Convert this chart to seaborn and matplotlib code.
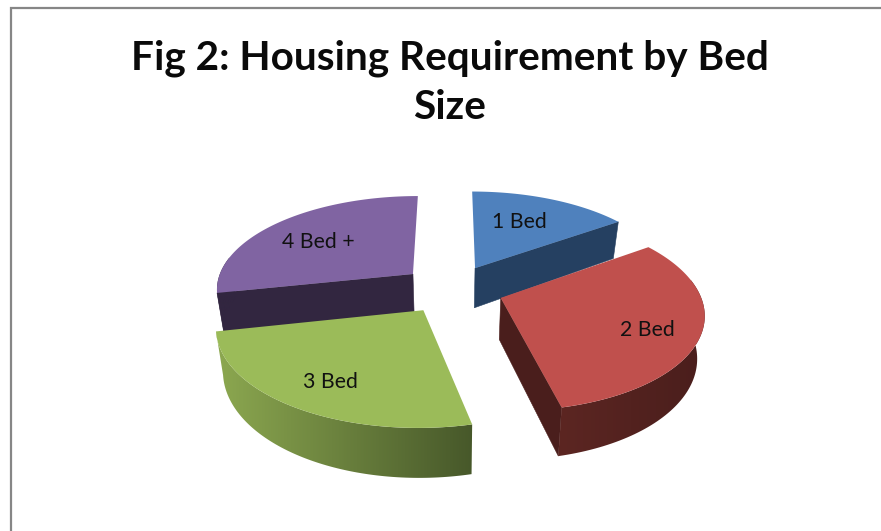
import numpy as np
import matplotlib
matplotlib.use("Agg")
import matplotlib.pyplot as plt
from matplotlib.patches import Polygon
import seaborn as sns

titleText = "Fig 2: Housing Requirement by Bed\nSize"
bedLabels = ["1 Bed", "2 Bed", "3 Bed", "4 Bed +"]
bedShares = [15.3, 31.1, 25.3, 28.3]

topColors = ["#4F81BD", "#C0504D", "#9BBB59", "#8064A2"]
faceColors = ["#254061", "#4A1E1C", "#4A5C28", "#322640"]
wallColors = [("#254061", "#254061"), ("#5C2622", "#4A1E1C"),
              ("#8CA850", "#47582A"), ("#322640", "#322640")]
labelNudges = [(-12, 5), (5, 6), (-3, 5), (4, 6)]
drawOrder = [3, 0, 2, 1]

# the tilted pie, in pixels of the 881x531 picture
centerX, centerY = 452, 289
radius = 192
stretch = 1.03
tilt = 0.487
perspective = 0.147
explode = 50
depth = 41


def project(planeX, planeY, down = 0.0):
    scale = 1 / (1 + perspective * planeY / radius)
    screenX = centerX + planeX * stretch * scale * (1 - 0.03 * down)
    screenY = centerY - planeY * tilt * scale + down * depth * scale
    return screenX, screenY


def faceShows(tipPoint, edgePoint, insidePoint, edgeAngle):
    # a cut face shows when the slice lies above its edge on screen
    if np.cos(edgeAngle) > 0.9:
        return False
    slope = (edgePoint[1] - tipPoint[1]) / (edgePoint[0] - tipPoint[0])
    return insidePoint[1] < tipPoint[1] + slope * (insidePoint[0] - tipPoint[0])


def drawSlice(ax, index, startAngle, endAngle, level):
    midAngle = np.radians((startAngle + endAngle) / 2)
    tipX = explode * np.sin(midAngle)
    tipY = explode * np.cos(midAngle)
    angles = np.radians(np.linspace(startAngle, endAngle, 90))
    rimX = tipX + radius * np.sin(angles)
    rimY = tipY + radius * np.cos(angles)
    tipPoint = project(tipX, tipY)
    insidePoint = project(rimX[45], rimY[45])

    for edgeX, edgeY, edgeAngle in [(rimX[0], rimY[0], angles[0]), (rimX[-1], rimY[-1], angles[-1])]:
        if not faceShows(tipPoint, project(edgeX, edgeY), insidePoint, edgeAngle):
            continue
        corners = [tipPoint, project(edgeX, edgeY),
                   project(edgeX, edgeY, 1), project(tipX, tipY, 1)]
        ax.add_patch(Polygon(corners, closed = True, facecolor = faceColors[index],
                             edgecolor = faceColors[index], linewidth = 0.4, zorder = level))

    # outer wall, only the front of the rim, a left to right ramp clipped to its outline
    front = np.cos(angles) < 0.2
    if front.any():
        upperX, upperY = project(rimX[front], rimY[front])
        lowerX, lowerY = project(rimX[front], rimY[front], 1)
        outline = list(zip(upperX, upperY)) + list(zip(lowerX[::-1], lowerY[::-1]))
        wallPatch = Polygon(outline, closed = True, facecolor = "none", edgecolor = "none",
                            transform = ax.transData)
        ax.add_patch(wallPatch)
        ramp = np.array(sns.blend_palette(wallColors[index], 128))[np.newaxis, :, :3]
        image = ax.imshow(ramp, extent = (min(upperX.min(), lowerX.min()), max(upperX.max(), lowerX.max()),
                                          max(upperY.max(), lowerY.max()), min(upperY.min(), lowerY.min())),
                          aspect = "auto", interpolation = "bilinear", zorder = level + 0.1)
        image.set_clip_path(wallPatch)

    # top of the slice
    topX, topY = project(rimX, rimY)
    ax.add_patch(Polygon([tipPoint] + list(zip(topX, topY)), closed = True,
                         facecolor = topColors[index], edgecolor = "none", zorder = level + 0.2))

    return project(tipX + 0.72 * radius * np.sin(midAngle),
                   tipY + 0.72 * radius * np.cos(midAngle))


sns.set_theme(style = "white")
plt.rcParams["font.family"] = ["Lato", "DejaVu Sans"]

fig = plt.figure(figsize = (8.81, 5.31), dpi = 100)
ax = fig.add_axes([0, 0, 1, 1])
ax.axis("off")

ax.plot([10.5, 10.5, 881], [531, 8, 8], color = "#868686", linewidth = 1.6,
        solid_joinstyle = "miter")

edges = np.concatenate([[0], np.cumsum(bedShares)]) / np.sum(bedShares) * 360
labelSpots = {}
for level, index in enumerate(drawOrder):
    labelSpots[index] = drawSlice(ax, index, edges[index], edges[index + 1], level + 2)

for index, label in enumerate(bedLabels):
    ax.text(labelSpots[index][0] + labelNudges[index][0], labelSpots[index][1] + labelNudges[index][1],
            label, fontsize = 15.3, color = "#111111", ha = "center", va = "center", zorder = 10)

ax.text(450, 82.5, titleText, fontsize = 29.2, fontweight = "bold", color = "#0A0A0A",
        ha = "center", va = "center", linespacing = 1.4, zorder = 10)

ax.set_xlim(0, 881)
ax.set_ylim(531, 0)

fig.savefig("out.png", dpi = 100)
